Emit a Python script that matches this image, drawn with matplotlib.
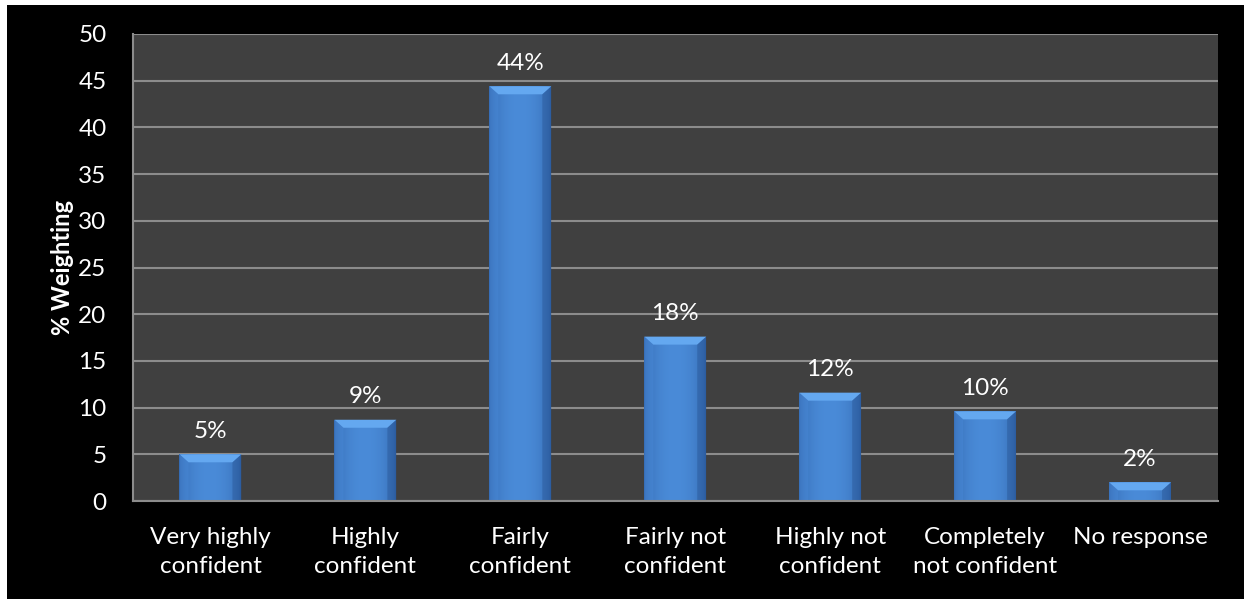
import matplotlib
matplotlib.use('Agg')
import matplotlib.pyplot as plt
from matplotlib.patches import Rectangle, Polygon
import numpy as np

# survey categories and weighting (%)
categories = ['Very highly\nconfident', 'Highly\nconfident', 'Fairly\nconfident',
              'Fairly not\nconfident', 'Highly not\nconfident', 'Completely\nnot confident',
              'No response']
weighting = [5.0, 8.7, 44.4, 17.6, 11.6, 9.6, 2.0]
y_ticks = [0, 5, 10, 15, 20, 25, 30, 35, 40, 45, 50]

plt.rcParams['font.family'] = ['Lato', 'DejaVu Sans']

W, H = 1244, 599
fig = plt.figure(figsize=(W / 100, H / 100), dpi=100)
fig.patch.set_facecolor('white')
# black panel behind the chart, thin white margin on the left and top
panel = Rectangle((7 / W, 0), 1 - 7 / W, (H - 5) / H, transform=fig.transFigure,
                  facecolor='black', edgecolor='none', zorder=-10)
fig.add_artist(panel)

ax = fig.add_axes([133 / W, (H - 501) / H, (1217.5 - 133) / W, (501 - 34) / H])
ax.set_zorder(1)
ax.set_facecolor('#404040')

x = np.arange(len(categories))
bar_w = 0.40
bars = ax.bar(x, weighting, width=bar_w, color='#3c78c3', zorder=3, edgecolor='none')

ax.set_xlim(-0.5, len(categories) - 0.5)
ax.set_ylim(0, 50)

# horizontal gradient inside each bar plus a bevel on top and sides
grad = np.linspace(0, 1, 64)
prof = 1 - (2 * grad - 1) ** 2
cols = np.zeros((1, 64, 3))
dark = np.array([0x2e, 0x62, 0xa8]) / 255
light = np.array([0x4a, 0x8b, 0xd8]) / 255
for i in range(64):
    cols[0, i] = dark + (light - dark) * prof[i] ** 0.6

# convert pixel sizes of the bevel to data units
px_x = (len(categories)) / ax.get_position().width / W
px_y = 50 / ax.get_position().height / H
bev_x = 9 * px_x
bev_y = 8 * px_y

for b in bars:
    x0, w, h = b.get_x(), b.get_width(), b.get_height()
    im = ax.imshow(cols, extent=[x0, x0 + w, 0, h], aspect='auto', zorder=4,
                   interpolation='bicubic')
    im.set_clip_path(b)
    by = min(bev_y, h * 0.45)
    bx = min(bev_x, w * 0.3)
    top = Polygon([[x0, h], [x0 + w, h], [x0 + w - bx, h - by], [x0 + bx, h - by]],
                  closed=True, facecolor='#64a8f0', edgecolor='none', zorder=5)
    left = Polygon([[x0, h], [x0 + bx, h - by], [x0 + bx, 0], [x0, 0]],
                   closed=True, facecolor='#4a8ad8', edgecolor='none', alpha=0.45, zorder=5)
    right = Polygon([[x0 + w, h], [x0 + w - bx, h - by], [x0 + w - bx, 0], [x0 + w, 0]],
                    closed=True, facecolor='#2a5796', edgecolor='none', alpha=0.45, zorder=5)
    for p in (top, left, right):
        ax.add_patch(p)

ax.set_xlim(-0.5, len(categories) - 0.5)
ax.set_ylim(0, 50)

for xi, v in zip(x, weighting):
    ax.annotate('{:.0f}%'.format(v), (xi, v), xytext=(0, 9), textcoords='offset points',
                ha='center', va='bottom', color='white', fontsize=17.5, zorder=6)

ax.set_yticks(y_ticks)
ax.yaxis.grid(True, color='#8c8c8c', linewidth=1.5, zorder=1)
ax.set_axisbelow(True)
ax.set_xticks(x)
ax.set_xticklabels(categories, linespacing=1.45)
ax.tick_params(axis='both', colors='white', labelsize=17.5, length=0)
ax.tick_params(axis='x', pad=19)
ax.tick_params(axis='y', pad=19)

for side in ['top', 'right']:
    ax.spines[side].set_visible(False)
for side in ['left', 'bottom']:
    ax.spines[side].set_color('#8c8c8c')
    ax.spines[side].set_linewidth(1.5)
    ax.spines[side].set_zorder(6)

ax.set_ylabel('% Weighting', color='white', fontsize=17, fontweight='bold', labelpad=3)

fig.savefig('out.png', dpi=100, facecolor=fig.get_facecolor())
